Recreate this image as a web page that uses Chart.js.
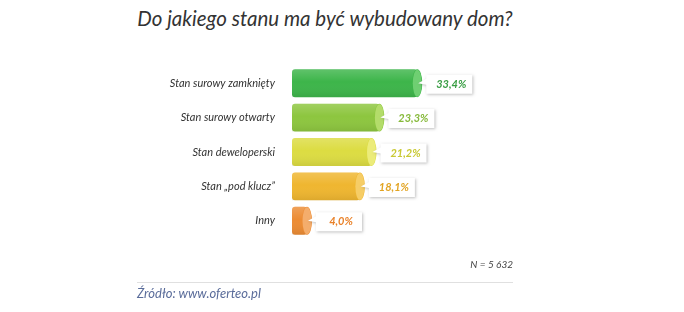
<!DOCTYPE html>
<html>
<head>
<meta charset="utf-8">
<script src="https://cdn.jsdelivr.net/npm/chart.js@4"></script>
<style>
  body { margin: 0; background: #fff; }
  #wrap { position: relative; width: 684px; height: 312px; font-family: Lato, "Open Sans", sans-serif; }
  #title { position: absolute; left: 0; width: 650px; top: 6px; text-align: center; font-style: italic; font-size: 20.5px; color: #333; }
  #nLabel { position: absolute; right: 171px; top: 258px; font-style: italic; font-size: 10px; color: #444; }
  #rule { position: absolute; left: 137px; width: 376px; top: 282px; border-top: 1px solid #e0e0e0; }
  #source { position: absolute; left: 137px; top: 285px; font-style: italic; font-size: 13px; color: #5a6c9a; }
  canvas { position: absolute; left: 0; top: 0; }
</style>
</head>
<body>
<div id="wrap">
  <div id="title">Do jakiego stanu ma być wybudowany dom?</div>
  <canvas id="myChart" width="684" height="312"></canvas>
  <div id="nLabel">N = 5 632</div>
  <div id="rule"></div>
  <div id="source">Źródło: www.oferteo.pl</div>
</div>
<script>
const categories = ['Stan surowy zamknięty', 'Stan surowy otwarty', 'Stan deweloperski', 'Stan „pod klucz”', 'Inny']
const values = [33.4, 23.3, 21.2, 18.1, 4.0]
const valueLabels = ['33,4%', '23,3%', '21,2%', '18,1%', '4,0%']
const barColors = ['#3db54a', '#8dc63f', '#dcdc42', '#efb630', '#ec8c34']
const capColors = ['#6fcf72', '#b3dc6a', '#ecec7a', '#f6cd66', '#f4ad6c']
const labelColors = ['#3a9e45', '#86b93a', '#c9c934', '#e2a423', '#e9822a']

const cylinders = {
  id: 'cylinders',
  afterDatasetsDraw(chart) {
    const ctx = chart.ctx
    const meta = chart.getDatasetMeta(0)
    meta.data.forEach((bar, i) => {
      const h = bar.height
      const top = bar.y - h / 2
      // soft shading across the cylinder
      const g = ctx.createLinearGradient(0, top, 0, top + h)
      g.addColorStop(0, 'rgba(255,255,255,0.18)')
      g.addColorStop(0.45, 'rgba(255,255,255,0.0)')
      g.addColorStop(1, 'rgba(0,0,0,0.08)')
      ctx.save()
      ctx.fillStyle = g
      ctx.fillRect(bar.base, top, bar.x - bar.base, h)
      // end cap
      ctx.beginPath()
      ctx.ellipse(bar.x, bar.y, 5, h / 2, 0, 0, Math.PI * 2)
      ctx.fillStyle = barColors[i]
      ctx.fill()
      ctx.beginPath()
      ctx.ellipse(bar.x, bar.y, 4.5, h / 2 - 0.5, 0, 0, Math.PI * 2)
      ctx.fillStyle = capColors[i]
      ctx.fill()
      // label box with pointer
      const bx = bar.x + 9
      const bw = 46
      const bh = 19
      const by = bar.y - bh / 2 + 1
      ctx.shadowColor = 'rgba(0,0,0,0.25)'
      ctx.shadowBlur = 3
      ctx.shadowOffsetX = 1
      ctx.shadowOffsetY = 1
      ctx.beginPath()
      ctx.moveTo(bar.x + 1, bar.y)
      ctx.lineTo(bx, by + 4)
      ctx.lineTo(bx, by)
      ctx.lineTo(bx + bw, by)
      ctx.lineTo(bx + bw, by + bh)
      ctx.lineTo(bx, by + bh)
      ctx.lineTo(bx, by + 10)
      ctx.closePath()
      ctx.fillStyle = '#ffffff'
      ctx.fill()
      ctx.shadowColor = 'transparent'
      ctx.font = 'italic bold 11px Lato, "Open Sans", sans-serif'
      ctx.fillStyle = labelColors[i]
      ctx.textAlign = 'center'
      ctx.textBaseline = 'middle'
      ctx.fillText(valueLabels[i], bx + bw / 2 + 2, by + bh / 2)
      ctx.restore()
    })
  }
}

new Chart(document.getElementById('myChart'), {
  type: 'bar',
  data: {
    labels: categories,
    datasets: [{
      data: values,
      backgroundColor: barColors,
      borderRadius: 3,
      borderSkipped: false,
      barPercentage: 0.81,
      categoryPercentage: 1
    }]
  },
  options: {
    indexAxis: 'y',
    responsive: false,
    animation: false,
    layout: { padding: { left: 0, right: 242, top: 66, bottom: 74 } },
    plugins: { legend: { display: false }, tooltip: { enabled: false } },
    scales: {
      x: { min: 0, max: 40, display: false },
      y: {
        afterFit: (scale) => { scale.width = 292 },
        grid: { display: false },
        border: { display: false },
        ticks: {
          padding: 9,
          color: '#333',
          font: { family: 'Lato, "Open Sans", sans-serif', style: 'italic', size: 11 }
        }
      }
    }
  },
  plugins: [cylinders]
})
</script>
</body>
</html>
